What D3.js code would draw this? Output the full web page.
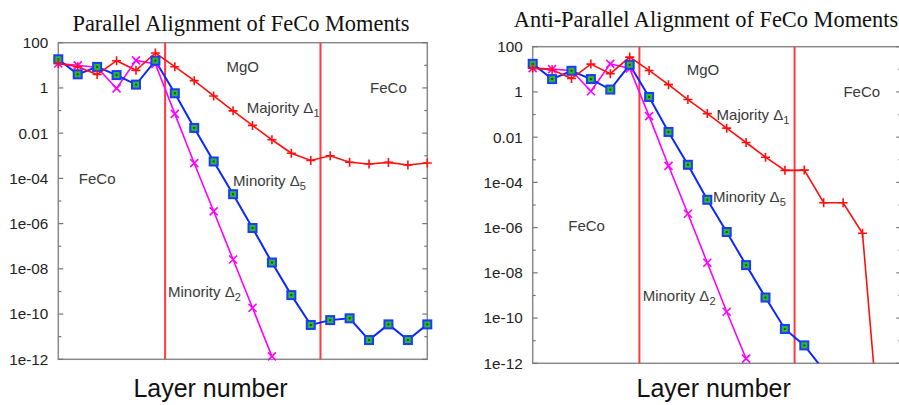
<!DOCTYPE html>
<html>
<head>
<meta charset="utf-8">
<script src="https://cdn.jsdelivr.net/npm/d3@7"></script>
<style>
  html, body { margin: 0; padding: 0; background: #fff; }
  svg { display: block; }
</style>
</head>
<body>
<svg id="chart" width="899" height="405"></svg>
<script>
// ---------------- data ----------------
const layers = [0, 1, 2, 3, 4, 5, 6, 7, 8, 9, 10, 11, 12, 13, 14, 15, 16, 17, 18, 19];
const interfaceLayers = [5.5, 13.5];
const yTickValues = [100, 10, 1, 0.1, 0.01, 1e-3, 1e-4, 1e-5, 1e-6, 1e-7, 1e-8, 1e-9, 1e-10, 1e-11, 1e-12];
const yTickLabels = ["100", "", "1", "", "0.01", "", "1e-04", "", "1e-06", "", "1e-08", "", "1e-10", "", "1e-12"];

// Parallel alignment
const parMajority1 = [12, 8.7, 3.9, 16, 6.0, 35, 8.7, 2.1, 0.44, 0.097, 0.022, 0.0051, 0.0013, 6.2e-4, 1.0e-3, 5.2e-4, 4.3e-4, 5.1e-4, 3.9e-4, 4.8e-4];
const parMinority5 = [18.5, 4.0, 8.5, 3.7, 1.4, 16, 0.58, 0.017, 5.6e-4, 2.0e-5, 6.4e-7, 1.9e-8, 6.9e-10, 3.3e-11, 5.4e-11, 6.5e-11, 7.1e-12, 3.5e-11, 7.1e-12, 3.5e-11];
const parMinority2 = [12, 10, 8.0, 0.95, 16.5, 11.5, 0.071, 4.7e-4, 3.5e-6, 2.6e-8, 1.9e-10, 1.35e-12];

// Anti-parallel alignment
const antiMajority1 = [11.3, 9.6, 3.9, 17, 6.4, 34.6, 8.9, 2.1, 0.46, 0.11, 0.025, 0.0058, 0.0013, 3.4e-4, 3.5e-4, 1.26e-5, 1.26e-5, 5.6e-7, 4.4e-17];
const antiMinority5 = [17.5, 3.7, 8.6, 3.7, 1.27, 15.9, 0.6, 0.017, 6.0e-4, 1.7e-5, 6.4e-7, 2.2e-8, 8.1e-10, 3.3e-11, 6.2e-12, 5.0e-13];
const antiMinority2 = [11.3, 10.2, 8.9, 1.07, 17.5, 11, 0.085, 5.4e-4, 4.1e-6, 2.8e-8, 1.9e-10, 1.6e-12];

// annotation texts: [text, subscript, layer, value, anchor]
const parLabels = [
  ["MgO", "", 9.5, 5.1, "middle"],
  ["FeCo", "", 17, 0.6, "middle"],
  ["Majority Δ", "1", 9.7, 0.079, "start"],
  ["FeCo", "", 2.0, 5.7e-5, "middle"],
  ["Minority Δ", "5", 9.0, 4.5e-5, "start"],
  ["Minority Δ", "2", 5.65, 5.8e-10, "start"]
];
const antiLabels = [
  ["MgO", "", 8.78, 5.8, "middle"],
  ["FeCo", "", 16.96, 0.62, "middle"],
  ["Majority Δ", "1", 9.48, 0.06, "start"],
  ["FeCo", "", 2.78, 6.8e-7, "middle"],
  ["Minority Δ", "5", 9.29, 1.3e-5, "start"],
  ["Minority Δ", "2", 5.67, 5.6e-10, "start"]
];

const panels = [
  { id: "par", title: "Parallel Alignment of FeCo Moments", titleX: 241, titleY: 31,
    left: 58.3, right: 427.3, top: 42.7, bottom: 359.3, xlabelX: 210.5,
    maj: parMajority1, min5: parMinority5, min2: parMinority2, labels: parLabels },
  { id: "anti", title: "Anti-Parallel Alignment of FeCo Moments", titleX: 706, titleY: 27,
    left: 532.7, right: 901.3, top: 46.7, bottom: 363.3, xlabelX: 713.7,
    maj: antiMajority1, min5: antiMinority5, min2: antiMinority2, labels: antiLabels }
];

// ---------------- drawing ----------------
const svg = d3.select("#chart");
const defs = svg.append("defs");
const FONT = "'Liberation Sans', Arial, Helvetica, sans-serif";
const inRange = v => v >= 1e-12 && v <= 100;

panels.forEach(p => {
  const x = d3.scaleLinear().domain([0, 19]).range([p.left, p.right]);
  const y = d3.scaleLog().domain([1e-12, 100]).range([p.bottom, p.top]);

  defs.append("clipPath").attr("id", "clip-" + p.id)
    .append("rect")
    .attr("x", p.left).attr("y", p.top)
    .attr("width", p.right - p.left).attr("height", p.bottom - p.top);

  const g = svg.append("g");

  // title
  g.append("text")
    .attr("x", p.titleX).attr("y", p.titleY)
    .attr("text-anchor", "middle")
    .style("font-family", "'Liberation Serif', 'Times New Roman', Times, serif")
    .style("font-size", "22.4px").style("fill", "#111")
    .text(p.title);

  // frame
  g.append("rect")
    .attr("x", p.left).attr("y", p.top)
    .attr("width", p.right - p.left).attr("height", p.bottom - p.top)
    .attr("fill", "none").attr("stroke", "#8a8a8a").attr("stroke-width", 1.5);

  // y axis labels
  const axL = d3.axisLeft(y).tickValues(yTickValues)
    .tickSize(0).tickPadding(10)
    .tickFormat((d, i) => yTickLabels[i]);
  const gAx = g.append("g").attr("transform", `translate(${p.left},0)`).call(axL);
  gAx.select(".domain").remove();
  gAx.selectAll("text").style("font-family", FONT).style("font-size", "15.3px").style("fill", "#222");

  // inward ticks, mirrored on the right
  yTickValues.forEach((v, i) => {
    const len = yTickLabels[i] ? 5 : 3;
    g.append("line").attr("x1", p.left).attr("x2", p.left + len)
      .attr("y1", y(v)).attr("y2", y(v)).attr("stroke", "#777").attr("stroke-width", 1.2);
    g.append("line").attr("x1", p.right).attr("x2", p.right - len)
      .attr("y1", y(v)).attr("y2", y(v)).attr("stroke", "#777").attr("stroke-width", 1.2);
  });

  // interface lines
  interfaceLayers.forEach(l => {
    g.append("line").attr("x1", x(l)).attr("x2", x(l))
      .attr("y1", p.top).attr("y2", p.bottom)
      .attr("stroke", "#ff3b3b").attr("stroke-width", 2);
  });

  const plot = g.append("g").attr("clip-path", `url(#clip-${p.id})`);
  const marks = g.append("g");
  const line = d3.line().x((d, i) => x(layers[i])).y(d => y(d));

  plot.append("path").datum(p.min2).attr("d", line)
    .attr("fill", "none").attr("stroke", "#ff00ff").attr("stroke-width", 1.6);
  plot.append("path").datum(p.min5).attr("d", line)
    .attr("fill", "none").attr("stroke", "#0a28ff").attr("stroke-width", 2);
  plot.append("path").datum(p.maj).attr("d", line)
    .attr("fill", "none").attr("stroke", "#ff1010").attr("stroke-width", 1.6);

  // markers: magenta x
  p.min2.forEach((v, i) => {
    if (!inRange(v)) return;
    const cx = x(layers[i]), cy = y(v), r = 4;
    marks.append("path")
      .attr("d", `M${cx - r},${cy - r}L${cx + r},${cy + r}M${cx - r},${cy + r}L${cx + r},${cy - r}`)
      .attr("stroke", "#ff00ff").attr("stroke-width", 1.6).attr("fill", "none");
  });
  // blue squares with green fill
  p.min5.forEach((v, i) => {
    if (!inRange(v)) return;
    const cx = x(layers[i]), cy = y(v), s = 8;
    marks.append("rect").attr("x", cx - s / 2).attr("y", cy - s / 2)
      .attr("width", s).attr("height", s)
      .attr("fill", "#2fb82f").attr("stroke", "#1a3cff").attr("stroke-width", 2);
    marks.append("rect").attr("x", cx - 1).attr("y", cy - 1)
      .attr("width", 2).attr("height", 2).attr("fill", "#0b5a0b");
  });
  // red plus
  p.maj.forEach((v, i) => {
    if (!inRange(v)) return;
    const cx = x(layers[i]), cy = y(v), r = 4.5;
    marks.append("path")
      .attr("d", `M${cx - r},${cy}L${cx + r},${cy}M${cx},${cy - r}L${cx},${cy + r}`)
      .attr("stroke", "#ff1010").attr("stroke-width", 1.6).attr("fill", "none");
  });

  // annotations
  p.labels.forEach(([t, sub, lx, lv, anchor]) => {
    const txt = g.append("text")
      .attr("x", x(lx)).attr("y", y(lv))
      .attr("text-anchor", anchor)
      .style("font-family", FONT).style("font-size", "15px").style("fill", "#3a3a3a");
    txt.append("tspan").text(t);
    if (sub) {
      txt.append("tspan").attr("dy", 4).style("font-size", "11px").text(sub);
    }
  });

  // x label
  g.append("text")
    .attr("x", p.xlabelX).attr("y", 397)
    .attr("text-anchor", "middle")
    .style("font-family", FONT).style("font-size", "25px").style("fill", "#111")
    .text("Layer number");
});
</script>
</body>
</html>
